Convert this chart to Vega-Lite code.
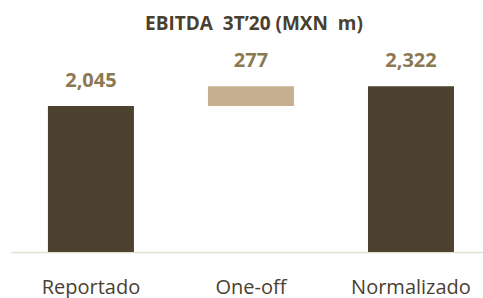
{
  "$schema": "https://vega.github.io/schema/vega-lite/v6.json",
  "autosize": {"type": "none"},
  "padding": {"left": 11, "top": 38, "right": 0, "bottom": 46},
  "width": 472,
  "height": 214,
  "background": "white",
  "title": {
    "text": "EBITDA\u00a0\u00a03T’20 (MXN\u00a0\u00a0m)",
    "font": "Open Sans",
    "fontSize": 19,
    "fontWeight": "bold",
    "color": "#4a4030",
    "anchor": "middle",
    "dx": 7,
    "offset": 4
  },
  "config": {"view": {"stroke": null}},
  "data": {
    "values": [
      {"cat": "Reportado", "start": 0, "end": 2045, "label": "2,045", "kind": "total"},
      {"cat": "One-off", "start": 2045, "end": 2322, "label": "277", "kind": "delta"},
      {"cat": "Normalizado", "start": 0, "end": 2322, "label": "2,322", "kind": "total"}
    ]
  },
  "encoding": {
    "x": {
      "field": "cat",
      "type": "nominal",
      "sort": null,
      "scale": {"paddingInner": 0.4625, "paddingOuter": 0.206, "align": 0.56},
      "axis": {
        "title": null,
        "ticks": false,
        "labelAngle": 0,
        "labelFont": "Open Sans",
        "labelFontSize": 20,
        "labelColor": "#4a4032",
        "labelPadding": 41,
        "labelBaseline": "alphabetic",
        "domainColor": "#e2dfd3",
        "domainWidth": 1.5
      }
    }
  },
  "layer": [
    {
      "mark": {"type": "bar"},
      "encoding": {
        "y": {"field": "start", "type": "quantitative", "scale": {"domain": [0, 2993]}, "axis": null},
        "y2": {"field": "end"},
        "color": {
          "field": "kind",
          "type": "nominal",
          "scale": {"domain": ["total", "delta"], "range": ["#4d4230", "#c7b08f"]},
          "legend": null
        }
      }
    },
    {
      "mark": {"type": "text", "baseline": "alphabetic", "dy": -19, "font": "Open Sans", "fontSize": 20, "fontWeight": "bold", "color": "#8c7852"},
      "encoding": {
        "y": {"field": "end", "type": "quantitative"},
        "text": {"field": "label"}
      }
    }
  ]
}
